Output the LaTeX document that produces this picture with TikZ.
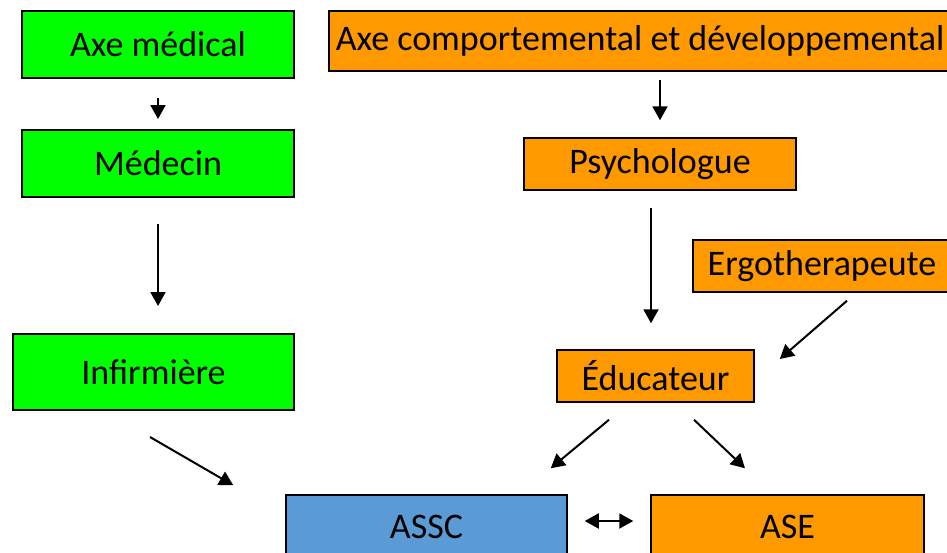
\documentclass[tikz,border=0pt]{standalone}
\usepackage{fontspec}
\setmainfont{Carlito}
\definecolor{medgreen}{RGB}{0, 255, 0}
\definecolor{compoorange}{RGB}{255, 153, 0}
\definecolor{asscblue}{RGB}{91, 155, 213}
\usetikzlibrary{arrows.meta, calc}

\begin{document}
\begin{tikzpicture}[x=1pt, y=-1pt,
  greenbox/.style={draw=black, line width=2pt, fill=medgreen, inner sep=0pt, font=\fontsize{36}{43}\selectfont},
  orangebox/.style={draw=black, line width=1.5pt, fill=compoorange, inner sep=0pt, font=\fontsize{36}{43}\selectfont},
  bluebox/.style={draw=black, line width=1.5pt, fill=asscblue, inner sep=0pt, font=\fontsize{36}{43}\selectfont},
  arr/.style={line width=2pt, -{Triangle[length=14pt, width=15pt]}},
  dblarr/.style={line width=2pt, {Triangle[length=14pt, width=15pt]}-{Triangle[length=14pt, width=15pt]}}]
  \useasboundingbox (0,0) rectangle (947,552);
  \clip (0,0) rectangle (947,552);

  % Axe medical
  \node[greenbox, minimum width=272pt, minimum height=67pt] (axemed) at (158, 44.5) {Axe médical};
  \node[greenbox, minimum width=272pt, minimum height=67pt] (medecin) at (158, 163.5) {Médecin};
  \node[greenbox, minimum width=281pt, minimum height=76pt] (infirm) at (153.5, 372) {Infirmière};

  % Axe comportemental
  \node[orangebox, minimum width=622pt, minimum height=60pt] (axecomp) at (640, 41) {Axe comportemental et développemental};
  \node[orangebox, minimum width=272pt, minimum height=52pt] (psycho) at (660, 164) {Psychologue};
  \node[orangebox, minimum width=258pt, minimum height=52pt] (ergo) at (822, 266) {Ergotherapeute};
  \node[orangebox, minimum width=197pt, minimum height=52pt] (educ) at (655.5, 376) {Éducateur};

  % Bottom row
  \node[bluebox, minimum width=281pt, minimum height=64pt] (assc) at (426.5, 527) {ASSC};
  \node[orangebox, minimum width=273pt, minimum height=64pt] (ase) at (787.5, 527) {ASE};

  % Arrows
  \draw[arr] ($(axemed.south)+(0,19)$) -- ($(medecin.north)+(0,-10)$);
  \draw[arr] ($(medecin.south)+(0,26)$) -- ($(medecin.south |- infirm.north)+(0,-27)$);
  \draw[arr] ($(infirm.south)+(-3.5,26)$) -- ($(assc.north west)+(-52,-9)$);
  \draw[arr] ($(axecomp.south -| psycho.north)+(0,8)$) -- ($(psycho.north)+(0,-17)$);
  \draw[arr] ($(psycho.south)+(-9,17)$) -- ($(educ.north)+(-4.5,-26)$);
  \draw[arr] ($(ergo.south)+(25,8)$) -- ($(educ.east)+(25,-17)$);
  \draw[arr] ($(educ.south)+(-46.5,17)$) -- ($(assc.north east)+(-17,-26)$);
  \draw[arr] ($(educ.south)+(38.5,17)$) -- ($(ase.north)+(-42.5,-26)$);
  \draw[dblarr] ($(assc.east)+(17,-6)$) -- ($(ase.west)+(-17,-6)$);
\end{tikzpicture}
\end{document}
